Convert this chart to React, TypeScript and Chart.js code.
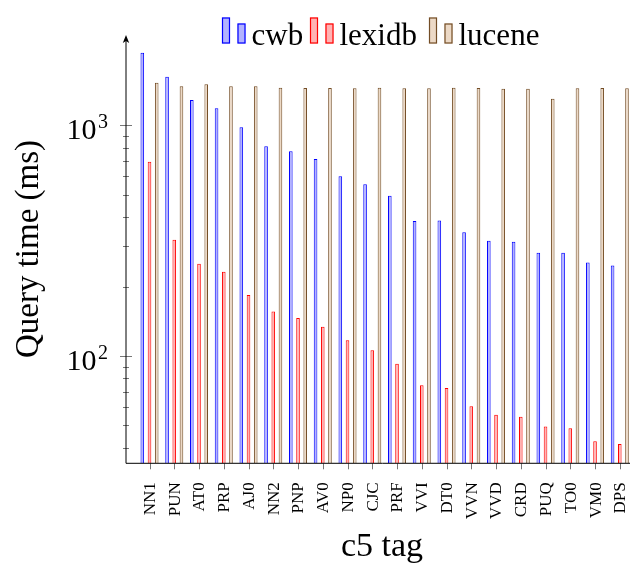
import { useEffect, useRef } from "react";
import { Chart, registerables } from "chart.js";

Chart.register(...registerables);

// Query times (ms) per c5 tag, three engines
const tags = ["NN1", "PUN", "AT0", "PRP", "AJ0", "NN2", "PNP", "AV0", "NP0", "CJC", "PRF", "VVI", "DT0", "VVN", "VVD", "CRD", "PUQ", "TO0", "VM0", "DPS"];
const cwb = [2064, 1624, 1287, 1185, 980, 811, 772, 714, 601, 555, 495, 385, 387, 344, 316, 313, 280, 280, 254, 247];
const lexidb = [695, 319, 251, 232, 184, 156, 146, 134, 117, 106, 92.6, 74.7, 72.7, 60.6, 55.7, 54.6, 49.5, 48.6, 42.7, 41.6];
const lucene = [1530, 1476, 1506, 1476, 1476, 1456, 1450, 1450, 1447, 1456, 1447, 1447, 1456, 1450, 1441, 1441, 1304, 1447, 1450, 1447];

const seriesNames = ["cwb", "lexidb", "lucene"];
const yMajorTicks = [100, 1000];
const yMinorTicks = [40, 50, 60, 70, 80, 90, 200, 300, 400, 500, 600, 700, 800, 900];
const yMin = 34.27;
const yMax = 2462;

const SERIF = "'Liberation Serif', 'Times New Roman', serif";
const strokes = ["#0000ff", "#ff0000", "#734d26"];
const fills = ["#b3b3ff", "#ffb3b3", "#ecd9c6"];

const CANVAS_W = 650;
const CANVAS_H = 557;

const axesPlugin = {
  id: "pgfAxes",
  afterDraw(chart: any) {
    const { ctx, chartArea, scales } = chart;
    const xs = scales.x;
    const ys = scales.y;
    const left = chartArea.left;
    const bottom = chartArea.bottom;
    const top = chartArea.top;
    const right = chartArea.right;
    ctx.save();

    // tick marks on y
    ctx.strokeStyle = "#777";
    ctx.lineWidth = 1;
    for (const v of yMinorTicks) {
      const py = Math.round(ys.getPixelForValue(v)) + 0.5;
      ctx.beginPath();
      ctx.moveTo(left - 3, py);
      ctx.lineTo(left + 3, py);
      ctx.stroke();
    }
    for (const v of yMajorTicks) {
      const py = Math.round(ys.getPixelForValue(v)) + 0.5;
      ctx.beginPath();
      ctx.moveTo(left - 6, py);
      ctx.lineTo(left + 6, py);
      ctx.stroke();
    }
    // tick marks on x
    tags.forEach((_, i) => {
      const px = Math.round(xs.getPixelForValue(i)) + 0.5;
      ctx.beginPath();
      ctx.moveTo(px, bottom);
      ctx.lineTo(px, bottom + 6);
      ctx.stroke();
    });

    // axis lines with stealth arrows
    ctx.strokeStyle = "#000";
    ctx.fillStyle = "#000";
    ctx.lineWidth = 1;
    ctx.beginPath();
    ctx.moveTo(left, bottom);
    ctx.lineTo(left, top + 4);
    ctx.stroke();
    ctx.beginPath();
    ctx.moveTo(left, top);
    ctx.lineTo(left - 3.2, top + 8);
    ctx.lineTo(left, top + 6);
    ctx.lineTo(left + 3.2, top + 8);
    ctx.closePath();
    ctx.fill();

    ctx.beginPath();
    ctx.moveTo(left, bottom);
    ctx.lineTo(right - 4, bottom);
    ctx.stroke();
    ctx.beginPath();
    ctx.moveTo(right, bottom);
    ctx.lineTo(right - 8, bottom - 3.2);
    ctx.lineTo(right - 6, bottom);
    ctx.lineTo(right - 8, bottom + 3.2);
    ctx.closePath();
    ctx.fill();

    // y tick labels 10^n
    ctx.fillStyle = "#000";
    ctx.textBaseline = "alphabetic";
    yMajorTicks.forEach((v) => {
      const py = ys.getPixelForValue(v);
      const exp = String(Math.round(Math.log10(v)));
      ctx.font = `20px ${SERIF}`;
      const expW = ctx.measureText(exp).width;
      ctx.textAlign = "right";
      ctx.fillText(exp, 100, py + 3);
      ctx.font = `30px ${SERIF}`;
      ctx.fillText("10", 100 - expW - 1.5, py + 14);
    });

    // x tick labels, rotated
    ctx.font = `17px ${SERIF}`;
    tags.forEach((t, i) => {
      const px = xs.getPixelForValue(i);
      ctx.save();
      ctx.translate(px + 1, bottom + 19);
      ctx.rotate(-Math.PI / 2);
      ctx.textAlign = "right";
      ctx.textBaseline = "middle";
      ctx.fillText(t, 0, 0);
      ctx.restore();
    });

    // axis titles
    ctx.font = `34px ${SERIF}`;
    ctx.textAlign = "center";
    ctx.textBaseline = "alphabetic";
    ctx.fillText("c5 tag", 374, 548);

    ctx.save();
    ctx.translate(21, 241);
    ctx.rotate(-Math.PI / 2);
    ctx.font = `33px ${SERIF}`;
    ctx.textAlign = "center";
    ctx.textBaseline = "middle";
    ctx.fillText("Query time (ms)", 0, 0);
    ctx.restore();

    // legend: two small bars then the name
    const legendX = [214, 302, 421];
    ctx.font = `31px ${SERIF}`;
    ctx.textAlign = "left";
    ctx.textBaseline = "alphabetic";
    seriesNames.forEach((name, k) => {
      const x0 = legendX[k];
      const base = 35.5;
      const drawIcon = (x: number, h: number) => {
        ctx.fillStyle = fills[k];
        ctx.fillRect(x, base - h, 8, h);
        ctx.strokeStyle = strokes[k];
        ctx.lineWidth = 1.2;
        ctx.strokeRect(x + 0.5, base - h + 0.5, 7, h - 1);
      };
      drawIcon(x0, 26);
      drawIcon(x0 + 15.5, 20);
      ctx.fillStyle = "#000";
      ctx.fillText(name, x0 + 29.5, 37);
    });

    ctx.restore();
  },
};

export default function App() {
  const canvasRef = useRef<HTMLCanvasElement | null>(null);

  useEffect(() => {
    const canvas = canvasRef.current;
    if (!canvas) return;
    const series = [cwb, lexidb, lucene];
    const chart = new Chart(canvas, {
      type: "bar",
      data: {
        datasets: series.map((vals, k) => ({
          label: seriesNames[k],
          data: vals.map((y, i) => ({ x: i, y })),
          backgroundColor: fills[k],
          borderColor: strokes[k],
          borderWidth: 1,
          inflateAmount: 0,
          categoryPercentage: 0.97,
          barPercentage: 0.5,
        })),
      },
      options: {
        responsive: false,
        animation: false,
        devicePixelRatio: 1,
        layout: {
          padding: { left: 118, top: 27, right: CANVAS_W - 635.3, bottom: CANVAS_H - 455.3 },
        },
        plugins: {
          legend: { display: false },
          tooltip: { enabled: false },
        },
        scales: {
          x: {
            type: "linear",
            display: false,
            offset: false,
            bounds: "data",
            min: -0.95,
            max: 19.95,
          },
          y: {
            type: "logarithmic",
            display: false,
            min: yMin,
            max: yMax,
          },
        },
      },
      plugins: [axesPlugin],
    });
    return () => chart.destroy();
  }, []);

  return (
    <div style={{ width: 630, height: CANVAS_H, overflow: "hidden", position: "relative" }}>
      <canvas ref={canvasRef} width={CANVAS_W} height={CANVAS_H} style={{ display: "block" }} />
    </div>
  );
}
